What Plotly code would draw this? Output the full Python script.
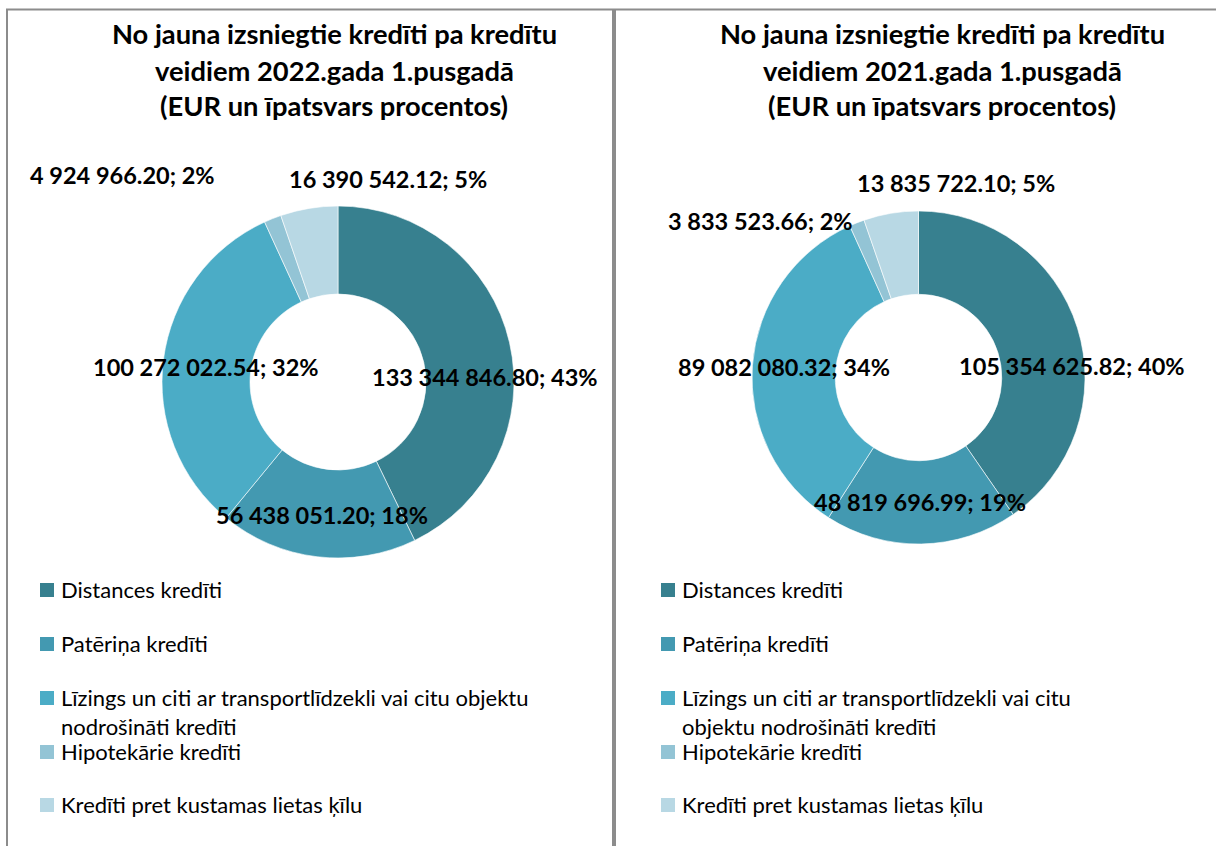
import plotly.graph_objects as go

W, H = 1216, 846

categories = [
    "Distances kredīti",
    "Patēriņa kredīti",
    "Līzings un citi ar transportlīdzekli vai citu objektu nodrošināti kredīti",
    "Hipotekārie kredīti",
    "Kredīti pret kustamas lietas ķīlu",
]
values_2022 = [133344846.80, 56438051.20, 100272022.54, 4924966.20, 16390542.12]
values_2021 = [105354625.82, 48819696.99, 89082080.32, 3833523.66, 13835722.10]
pct_2022 = ["43%", "18%", "32%", "2%", "5%"]
pct_2021 = ["40%", "19%", "34%", "2%", "5%"]
title_2022 = ["No jauna izsniegtie kredīti pa kredītu", "veidiem 2022.gada 1.pusgadā",
              "(EUR un īpatsvars procentos)"]
title_2021 = ["No jauna izsniegtie kredīti pa kredītu", "veidiem 2021.gada 1.pusgadā",
              "(EUR un īpatsvars procentos)"]
legend_left = ["Distances kredīti", "Patēriņa kredīti",
               "Līzings un citi ar transportlīdzekli vai citu objektu<br>nodrošināti kredīti",
               "Hipotekārie kredīti", "Kredīti pret kustamas lietas ķīlu"]
legend_right = ["Distances kredīti", "Patēriņa kredīti",
                "Līzings un citi ar transportlīdzekli vai citu<br>objektu nodrošināti kredīti",
                "Hipotekārie kredīti", "Kredīti pret kustamas lietas ķīlu"]
colors = ["#37808F", "#4399B1", "#4BACC6", "#93C4D5", "#B8D8E4"]

FONT = "Lato"


def px(x):
    return x / W


def py(y):
    return 1 - y / H


def fmt(v):
    s = f"{v:,.2f}".replace(",", " ")
    return s


fig = go.Figure()


def add_donut(vals, x0, x1, y0, y1):
    fig.add_trace(go.Pie(
        labels=categories, values=vals, hole=0.5, sort=False,
        direction="clockwise", rotation=0,
        marker=dict(colors=colors, line=dict(color="white", width=0.6)),
        textinfo="none", hoverinfo="label+value+percent", showlegend=False,
        domain=dict(x=[px(x0), px(x1)], y=[py(y1), py(y0)]),
    ))


add_donut(values_2022, 162, 514, 206, 558)
add_donut(values_2021, 752, 1085, 211, 544)

annotations = []


def text(x, y, s, size, bold=False, xanchor="center"):
    annotations.append(dict(
        x=px(x), y=py(y), xref="paper", yref="paper", text=f"<b>{s}</b>" if bold else s,
        showarrow=False, xanchor=xanchor, yanchor="middle",
        font=dict(family=FONT, size=size, color="#000000"), align="left",
    ))


# titles
for i, line in enumerate(title_2022):
    text(334, 34 + i * 36, line, 27.3, bold=True)
for i, line in enumerate(title_2021):
    text(942, 34 + i * 36, line, 27.3, bold=True)

# data labels
pos_2022 = [(485, 377), (322, 515), (206, 367), (122, 175), (388, 179)]
pos_2021 = [(1072, 366), (920, 502), (784, 367), (760, 221), (956, 183)]
for v, p, (x, y) in zip(values_2022, pct_2022, pos_2022):
    text(x, y, f"{fmt(v)}; {p}", 23.5, bold=True)
for v, p, (x, y) in zip(values_2021, pct_2021, pos_2021):
    text(x, y, f"{fmt(v)}; {p}", 23.5, bold=True)

# legends (manual)
shapes = []
leg_y = [590, 644, 698, 752, 805]
for (sx, labels) in [(40, legend_left), (661, legend_right)]:
    for c, lab, y in zip(colors, labels, leg_y):
        shapes.append(dict(type="rect", xref="paper", yref="paper",
                           x0=px(sx), x1=px(sx + 14), y0=py(y + 7), y1=py(y - 7),
                           fillcolor=c, line=dict(width=0)))
        if "<br>" in lab:
            l1, l2 = lab.split("<br>")
            text(sx + 19, y - 1, l1, 22, xanchor="left")
            text(sx + 19, y + 28, l2, 22, xanchor="left")
        else:
            text(sx + 19, y - 1, lab, 22, xanchor="left")

# panel borders
border = "#8C8C8C"
shapes.append(dict(type="line", xref="paper", yref="paper", x0=px(6), x1=1, y0=py(9.5), y1=py(9.5),
                   line=dict(color=border, width=2)))
shapes.append(dict(type="line", xref="paper", yref="paper", x0=px(7), x1=px(7), y0=py(9), y1=0,
                   line=dict(color=border, width=2)))
shapes.append(dict(type="line", xref="paper", yref="paper", x0=px(614), x1=px(614), y0=py(9), y1=0,
                   line=dict(color=border, width=4)))

fig.update_layout(
    width=W, height=H, margin=dict(l=0, r=0, t=0, b=0),
    paper_bgcolor="white", plot_bgcolor="white",
    annotations=annotations, shapes=shapes, showlegend=False,
    font=dict(family=FONT),
)

fig.write_html("out.html", config={"displayModeBar": False},
               post_script="document.body.style.margin='0';document.body.style.overflow='hidden';")
